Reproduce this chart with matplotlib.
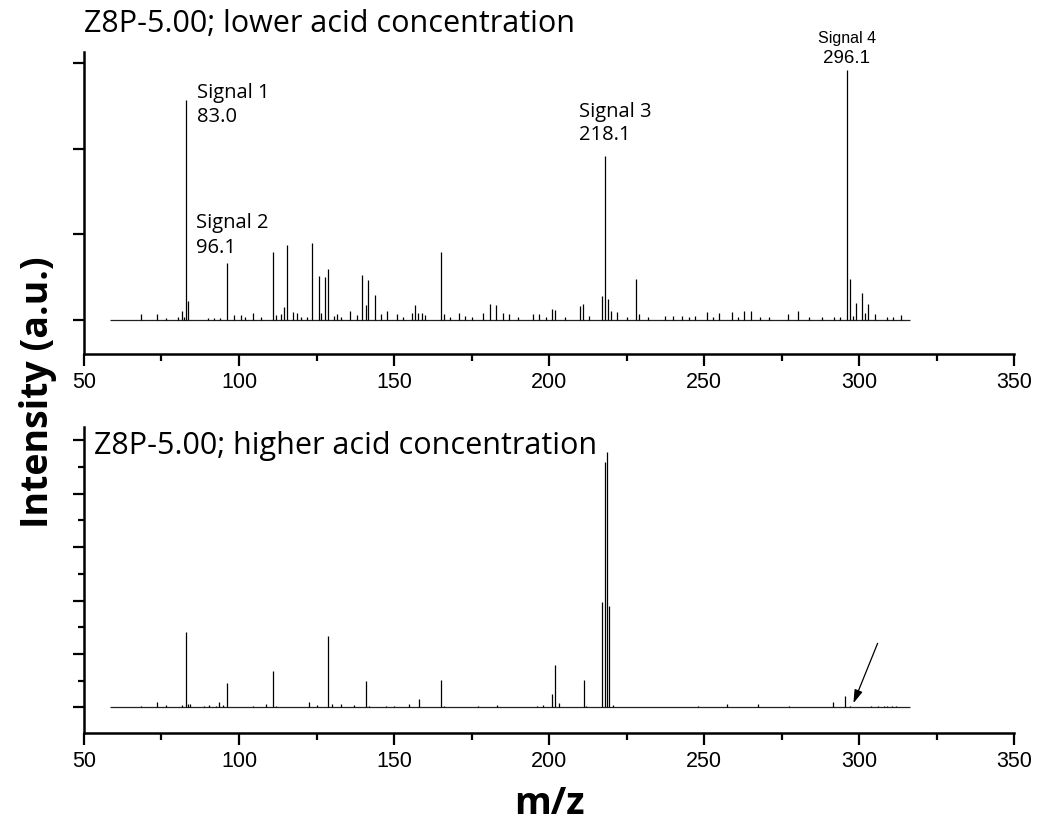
import matplotlib
matplotlib.use("Agg")
import matplotlib.pyplot as plt
from matplotlib.ticker import MultipleLocator

# ---------------- data ----------------
top_range = [58.4, 316.5]
top_mz = [68.4, 73.4, 76.3, 80.4, 81.5, 82.2, 83.0, 83.5, 90, 92, 94, 96.1, 98.5, 100.5, 102, 104.6,
          107, 110.9, 111.8, 113.5, 114.6, 115.6, 117.5, 118.6, 120, 122, 123.7, 125.7, 126.6, 127.7,
          128.8, 130.5, 131.7, 133, 135.8, 138, 139.8, 140.9, 141.7, 143.9, 145.7, 147.8, 150.9, 153,
          155.9, 156.8, 157.9, 158.9, 160, 165.1, 166.1, 168, 171, 173, 175, 178.8, 181, 182.9, 185,
          187, 190, 194.7, 196.9, 199, 201.1, 201.9, 205, 210, 211.1, 213, 217, 218.1, 219.1, 220,
          221.8, 225, 228.1, 229.1, 232, 237.4, 240, 243, 245, 247.1, 250.9, 253, 254.8, 258.9, 261,
          262.9, 265.1, 268, 271, 277, 280.4, 284, 288, 292, 294, 296.1, 297.1, 298, 299, 301.1, 302,
          303, 305.2, 308.9, 311, 313.5]
top_int = [0.07, 0.07, 0.02, 0.03, 0.10, 0.04, 2.57, 0.22, 0.02, 0.02, 0.02, 0.67, 0.06, 0.06, 0.03, 0.08,
           0.03, 0.79, 0.06, 0.07, 0.15, 0.88, 0.09, 0.08, 0.04, 0.04, 0.90, 0.52, 0.08, 0.50,
           0.60, 0.05, 0.07, 0.04, 0.10, 0.06, 0.53, 0.17, 0.47, 0.29, 0.07, 0.10, 0.07, 0.03,
           0.08, 0.17, 0.08, 0.08, 0.06, 0.80, 0.07, 0.04, 0.08, 0.05, 0.03, 0.08, 0.19, 0.17, 0.08,
           0.07, 0.03, 0.07, 0.07, 0.04, 0.13, 0.12, 0.03, 0.16, 0.19, 0.05, 0.28, 1.92, 0.24, 0.10,
           0.09, 0.03, 0.48, 0.07, 0.03, 0.05, 0.05, 0.05, 0.04, 0.05, 0.09, 0.04, 0.08, 0.09, 0.04,
           0.10, 0.10, 0.04, 0.04, 0.07, 0.11, 0.03, 0.04, 0.04, 0.04, 2.92, 0.48, 0.05, 0.20, 0.31, 0.08,
           0.19, 0.07, 0.04, 0.03, 0.06]

bot_range = [58.4, 316.5]
bot_mz = [68.3, 73.4, 76.5, 81.5, 83.0, 83.5, 84.3, 88.7, 90.4, 92.6, 93.7, 94.7, 96.1, 104.6, 108.7,
          110.9, 111.8, 122.7, 125, 128.8, 129.9, 132.9, 137.1, 141.0, 141.8, 147.3, 150, 154.9, 158,
          165.1, 166, 177.2, 183.1, 196.2, 198.2, 201.1, 202.0, 203.1, 211.2, 212, 217.0, 218.1, 218.7,
          219.2, 220.5, 248.2, 257.3, 267.5, 277.5, 291.5, 295.5, 297, 304, 306, 308, 309, 310.5, 312]
bot_int = [0.02, 0.10, 0.05, 0.04, 1.41, 0.07, 0.07, 0.03, 0.05, 0.03, 0.11, 0.04, 0.46, 0.03, 0.07,
           0.69, 0.02, 0.10, 0.05, 1.33, 0.07, 0.06, 0.04, 0.49, 0.02, 0.03, 0.02, 0.06, 0.15,
           0.51, 0.02, 0.03, 0.04, 0.02, 0.04, 0.25, 0.80, 0.09, 0.52, 0.02, 1.97, 4.59, 4.79,
           1.90, 0.04, 0.02, 0.07, 0.07, 0.02, 0.10, 0.22, 0.02, 0.02, 0.02, 0.03, 0.03, 0.03, 0.02]

signal_names = ["Signal 1", "Signal 2", "Signal 3", "Signal 4"]
signal_mz = ["83.0", "96.1", "218.1", "296.1"]

title_top = "Z8P-5.00; lower acid concentration"
title_bot = "Z8P-5.00; higher acid concentration"
xlabel = "m/z"
ylabel = "Intensity (a.u.)"
arrow_from = (306.0, 1.20)
arrow_to = (298.2, 0.08)

# ---------------- figure ----------------
W, H = 1038, 829
fig = plt.figure(figsize=(W / 100, H / 100), dpi=100)

def px_axes(l, t, r, b):
    return fig.add_axes([l / W, 1 - b / H, (r - l) / W, (b - t) / H])

ax1 = px_axes(84, 53, 1014, 355)
ax2 = px_axes(84, 428, 1014, 734)

tick_font = dict(family="Liberation Sans", size=15.5)
lw_spine = 1.8

for ax in (ax1, ax2):
    for s in ("top", "right"):
        ax.spines[s].set_visible(False)
    for s in ("left", "bottom"):
        ax.spines[s].set_linewidth(lw_spine)
    ax.set_xlim(50, 350)
    ax.xaxis.set_major_locator(MultipleLocator(50))
    ax.xaxis.set_minor_locator(MultipleLocator(25))
    ax.tick_params(axis="x", which="major", length=8.5, width=1.6, direction="out", pad=4)
    ax.tick_params(axis="x", which="minor", length=5, width=1.6, direction="out")
    ax.tick_params(axis="y", which="major", length=8, width=1.6, direction="out", labelleft=False)
    ax.tick_params(axis="y", which="minor", length=4, width=1.6, direction="out")
    for lab in ax.get_xticklabels():
        lab.set_fontfamily(tick_font["family"])
        lab.set_fontsize(tick_font["size"])

ax1.set_ylim(-0.397, 3.131)
ax1.yaxis.set_major_locator(MultipleLocator(1))
ax1.yaxis.set_minor_locator(plt.NullLocator())
ax2.set_ylim(-0.478, 5.25)
ax2.yaxis.set_major_locator(MultipleLocator(1))
ax2.yaxis.set_minor_locator(MultipleLocator(0.5))

for ax, rng, mz, inten in ((ax1, top_range, top_mz, top_int), (ax2, bot_range, bot_mz, bot_int)):
    ax.hlines(0, rng[0], rng[1], color="#222222", lw=0.9)
    ax.vlines(mz, 0, inten, color="black", lw=0.9)

# signal annotations (top panel)
lab_font = dict(family="Open Sans", size=14.5, color="black")
ax1.text(86.5, 2.60, signal_names[0], **lab_font, va="baseline")
ax1.text(86.5, 2.32, signal_mz[0], **lab_font, va="baseline")
ax1.text(86.1, 1.09, signal_names[1], **lab_font, va="baseline")
ax1.text(86.1, 0.79, signal_mz[1], **lab_font, va="baseline")
ax1.text(209.7, 2.38, signal_names[2], **lab_font, va="baseline")
ax1.text(209.7, 2.11, signal_mz[2], **lab_font, va="baseline")
sig4_font = dict(family="Liberation Sans", color="black")
ax1.text(296.1, 3.25, signal_names[3], **sig4_font, size=11.5, ha="center", va="baseline", clip_on=False)
ax1.text(296.1, 3.01, signal_mz[3], **sig4_font, size=13.5, ha="center", va="baseline", clip_on=False)

# arrow (bottom panel)
ax2.annotate("", xy=arrow_to, xytext=arrow_from,
             arrowprops=dict(arrowstyle="-|>,head_length=0.8,head_width=0.25", color="black", lw=0.9,
                             shrinkA=0, shrinkB=0))

# titles
fig.text(84 / W, 1 - 32 / H, title_top, family="Open Sans", size=22, va="baseline")
fig.text(94 / W, 1 - 454 / H, title_bot, family="Open Sans", size=22, va="baseline")

# axis labels
fig.text(38 / W, 1 - 392 / H, ylabel, family="Open Sans", weight="bold", size=27,
         rotation=90, ha="center", va="center")
fig.text(549 / W, 1 - 804 / H, xlabel, family="Open Sans", weight="bold", size=27,
         ha="center", va="center")

fig.savefig("out.png", dpi=100)
